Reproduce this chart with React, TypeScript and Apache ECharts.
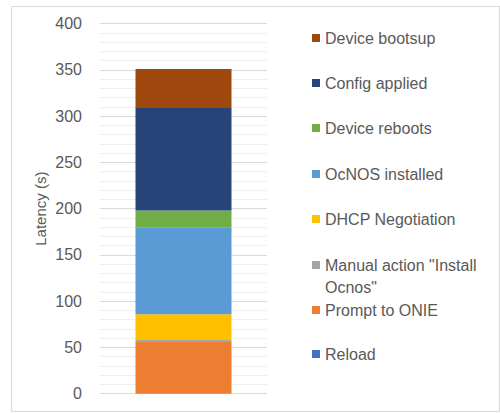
import React, { useEffect, useRef } from "react";
import * as echarts from "echarts";

const categories = ["Provisioning"];
const seriesNames = [
  "Reload",
  "Prompt to ONIE",
  'Manual action "Install Ocnos"',
  "DHCP Negotiation",
  "OcNOS installed",
  "Device reboots",
  "Config applied",
  "Device bootsup",
];
const seriesValues = [0, 56, 2, 28, 94, 18, 111, 42];
const seriesColors = [
  "#4472C4",
  "#ED7D31",
  "#A5A5A5",
  "#FFC000",
  "#5B9BD5",
  "#70AD47",
  "#264478",
  "#9E480E",
];
const yTicks = { min: 0, max: 400, interval: 50 };
const legendOrder = [7, 6, 5, 4, 3, 2, 1, 0];
const legendTops = [38, 83, 128, 174, 219, 265, 310, 354];

export default function App() {
  const ref = useRef<HTMLDivElement>(null);
  useEffect(() => {
    if (!ref.current) return;
    const chart = echarts.init(ref.current, null, { renderer: "svg" });
    const font = "'Liberation Sans', Arial, sans-serif";
    const legends = legendOrder.map((si, k) => {
      const multi = si === 2;
      return {
        data: [seriesNames[si]],
        left: 307,
        top: legendTops[k] - (multi ? 38 : 16),
        orient: "vertical" as const,
        itemWidth: 8,
        itemHeight: 8,
        itemGap: 6,
        icon: "rect",
        selectedMode: false,
        formatter: multi ? () => '\nManual action "Install\nOcnos"' : undefined,
        textStyle: {
          color: "#595959",
          fontSize: 16,
          fontFamily: font,
          lineHeight: 22,
        },
      };
    });
    chart.setOption({
      animation: false,
      grid: { left: 100, right: 233, top: 23.7, bottom: 19.3 },
      xAxis: {
        type: "category",
        data: categories,
        axisLine: { show: false },
        axisTick: { show: false },
        axisLabel: { show: false },
      },
      yAxis: {
        type: "value",
        min: yTicks.min,
        max: yTicks.max,
        interval: yTicks.interval,
        name: "Latency (s)",
        nameLocation: "middle",
        nameGap: 52,
        nameTextStyle: { color: "#595959", fontSize: 15, fontFamily: font },
        axisLine: { show: false },
        axisTick: { show: false },
        axisLabel: { color: "#595959", fontSize: 16, fontFamily: font, margin: 18 },
        splitLine: { lineStyle: { color: "#d9d9d9", width: 1 } },
        minorTick: { show: false, splitNumber: 5 },
        minorSplitLine: { show: true, lineStyle: { color: "#efefef", width: 1 } },
      },
      legend: legends,
      series: seriesNames.map((name, i) => ({
        type: "bar",
        name,
        stack: "total",
        data: [seriesValues[i]],
        barWidth: 96,
        itemStyle: { color: seriesColors[i] },
      })),
      graphic: [
        {
          type: "rect",
          shape: { x: 11.5, y: 6.5, width: 488, height: 405 },
          style: { fill: "none", stroke: "#d9d9d9", lineWidth: 1 },
          silent: true,
        },
      ],
    });
    return () => chart.dispose();
  }, []);
  return <div ref={ref} style={{ width: 500, height: 413, position: "absolute", left: 0, top: 0 }} />;
}
